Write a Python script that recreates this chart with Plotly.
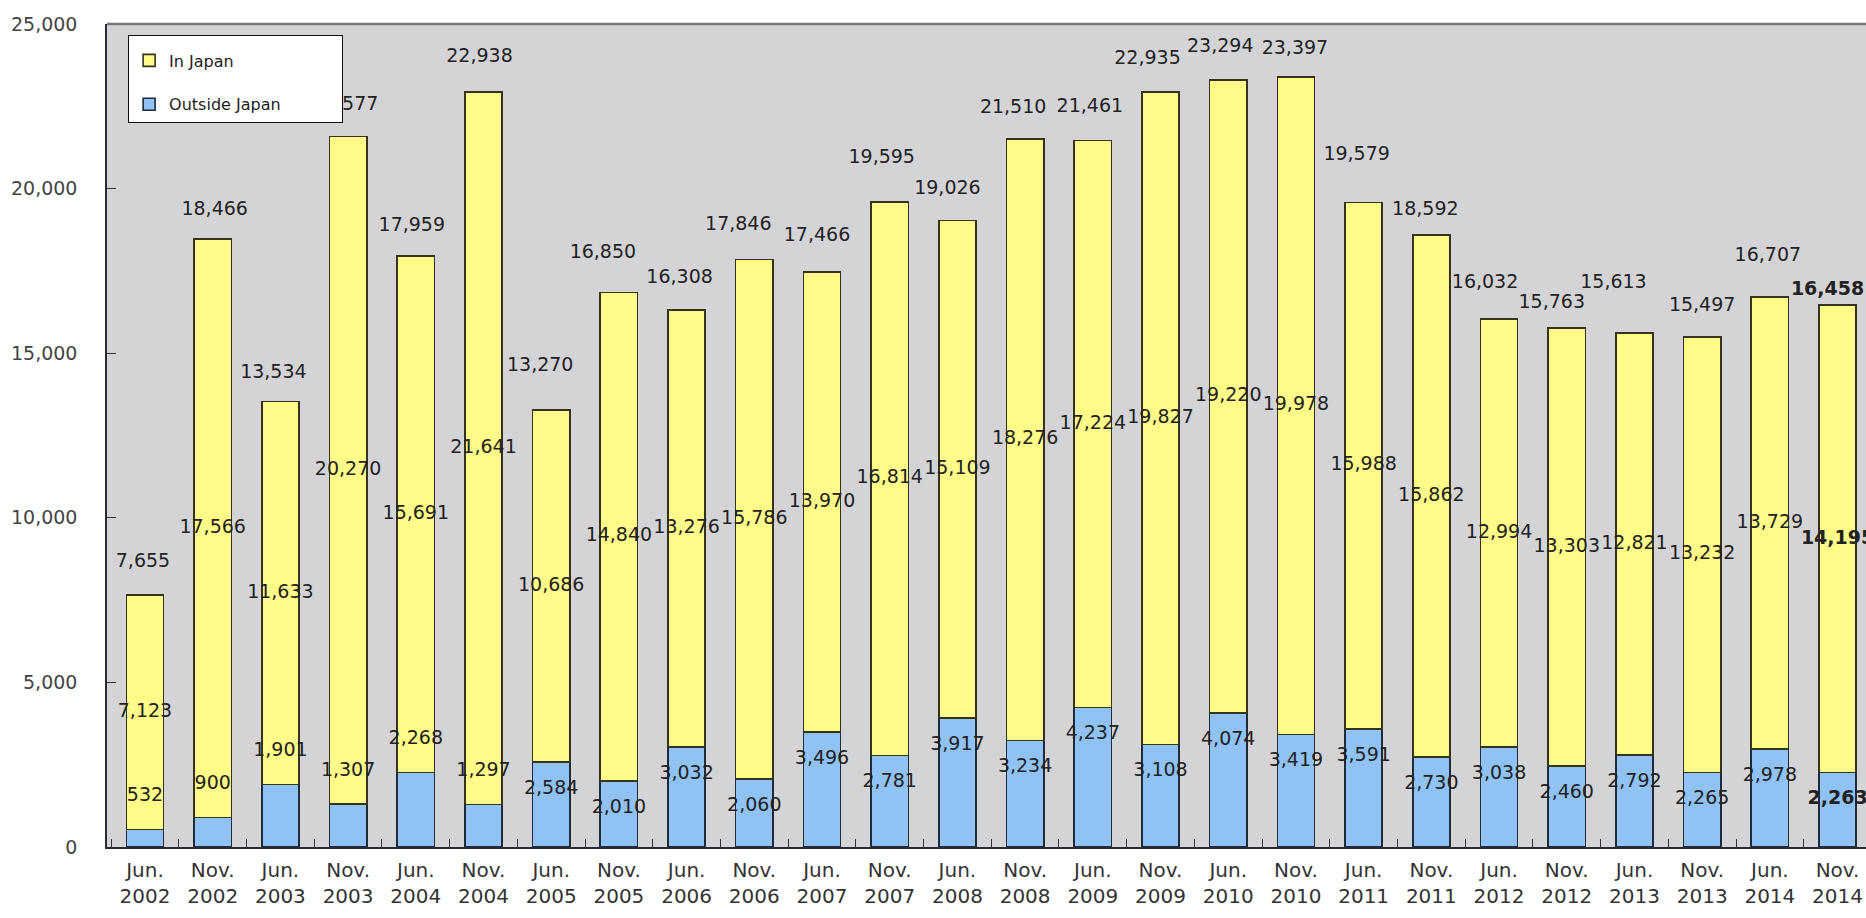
import plotly.graph_objects as go

periods = ["Jun.<br>2002", "Nov.<br>2002", "Jun.<br>2003", "Nov.<br>2003", "Jun.<br>2004", "Nov.<br>2004",
           "Jun.<br>2005", "Nov.<br>2005", "Jun.<br>2006", "Nov.<br>2006", "Jun.<br>2007", "Nov.<br>2007",
           "Jun.<br>2008", "Nov.<br>2008", "Jun.<br>2009", "Nov.<br>2009", "Jun.<br>2010", "Nov.<br>2010",
           "Jun.<br>2011", "Nov.<br>2011", "Jun.<br>2012", "Nov.<br>2012", "Jun.<br>2013", "Nov.<br>2013",
           "Jun.<br>2014", "Nov.<br>2014"]

outside_japan = [532, 900, 1901, 1307, 2268, 1297, 2584, 2010, 3032, 2060, 3496, 2781, 3917,
                 3234, 4237, 3108, 4074, 3419, 3591, 2730, 3038, 2460, 2792, 2265, 2978, 2263]
in_japan = [7123, 17566, 11633, 20270, 15691, 21641, 10686, 14840, 13276, 15786, 13970, 16814, 15109,
            18276, 17224, 19827, 19220, 19978, 15988, 15862, 12994, 13303, 12821, 13232, 13729, 14195]

y_ticks = [0, 5000, 10000, 15000, 20000, 25000]

# label placement (pixel offsets, styling only)
total_dy_px = [33, 29, 28, 31, 30, 35, 44, 39, 32, 34, 36, 44, 31, 31, 33, 33, 33, 27, 47, 25, 36, 25, 50, 31, 41, 15]
total_dx_px = [-2, 2, -7, -3, -4, -4, -11, -16, -7, -16, -5, -8, -10, -12, -3, -13, -8, -1, -7, -6, -14, -15, -21, 0, -2, -10]
outside_above = [True] * 6 + [False] * 20

n = len(periods)
xs = list(range(n))
totals = [a + b for a, b in zip(outside_japan, in_japan)]

PX_PER_CAT = 67.7
UNITS_PER_PX = 25000 / 822.0

FONT = "DejaVu Sans, Verdana, sans-serif"
label_font = dict(family=FONT, size=19, color="#222222")


def fmt(v, bold):
    s = f"{v:,}"
    return f"<b>{s}</b>" if bold else s


fig = go.Figure()

fig.add_trace(go.Bar(
    x=xs, y=outside_japan, name="Outside Japan" + "\u00a0" * 11, width=0.55,
    marker=dict(color="#90c2f3", line=dict(color="#1f2a3a", width=1.6)),
    legendgroup="b", legendrank=2, hoverinfo="skip",
))
fig.add_trace(go.Bar(
    x=xs, y=in_japan, name="In Japan", width=0.55,
    marker=dict(color="#fffb88", line=dict(color="#33331f", width=1.6)),
    legendgroup="a", legendrank=1, hoverinfo="skip",
))

# In Japan labels (segment centre)
fig.add_trace(go.Scatter(
    x=xs, y=[o + j / 2 for o, j in zip(outside_japan, in_japan)],
    text=[fmt(v, i == n - 1) for i, v in enumerate(in_japan)],
    mode="text", textposition="middle center", textfont=label_font,
    showlegend=False, hoverinfo="skip", cliponaxis=False,
))
# Outside Japan labels
fig.add_trace(go.Scatter(
    x=xs, y=[o + (33 if up else -27) * UNITS_PER_PX for o, up in zip(outside_japan, outside_above)],
    text=[fmt(v, i == n - 1) for i, v in enumerate(outside_japan)],
    mode="text", textposition="middle center", textfont=label_font,
    showlegend=False, hoverinfo="skip", cliponaxis=False,
))
# Totals
fig.add_trace(go.Scatter(
    x=[x + dx / PX_PER_CAT for x, dx in zip(xs, total_dx_px)],
    y=[t + dy * UNITS_PER_PX for t, dy in zip(totals, total_dy_px)],
    text=[fmt(v, i == n - 1) for i, v in enumerate(totals)],
    mode="text", textposition="middle center", textfont=label_font,
    showlegend=False, hoverinfo="skip", cliponaxis=False,
))

fig.update_layout(
    width=1866, height=918,
    barmode="stack",
    paper_bgcolor="white",
    plot_bgcolor="#d4d4d6",
    margin=dict(l=107, r=0, t=24, b=71),
    font=dict(family=FONT, color="#333333"),
    showlegend=True,
    legend=dict(
        x=0.012, y=0.987, xanchor="left", yanchor="top",
        bgcolor="white", bordercolor="#111111", borderwidth=1,
        font=dict(size=16, color="#222222", family=FONT),
        traceorder="grouped", tracegroupgap=20,
        title=dict(text="\u00a0", font=dict(size=6)),
    ),
    xaxis=dict(
        range=[-0.561, 25.42],
        tickmode="array", tickvals=xs, ticktext=periods,
        ticks="", showgrid=False, zeroline=False,
        showline=True, linecolor="#2a2a3a", linewidth=1.5,
        tickfont=dict(size=20, color="#333333"),
        minor=dict(tickmode="linear", tick0=0.5, dtick=1, ticks="inside", ticklen=8,
                   tickcolor="#333333", showgrid=False),
        ticklabelstandoff=4,
    ),
    yaxis=dict(
        range=[0, 25000], tickmode="array", tickvals=y_ticks, tickformat=",",
        ticks="inside", ticklen=9, tickcolor="#333333",
        showgrid=False, zeroline=False,
        showline=True, linecolor="#2a2a3a", linewidth=1.5,
        tickfont=dict(size=19, color="#444444"),
        ticklabelstandoff=24,
    ),
    shapes=[dict(type="line", xref="paper", yref="paper", x0=0, x1=1, y0=1, y1=1,
                 line=dict(color="#777777", width=2.5))],
)

fig.write_html("out.html", config={"displayModeBar": False},
               post_script="document.body.style.margin='0';")
